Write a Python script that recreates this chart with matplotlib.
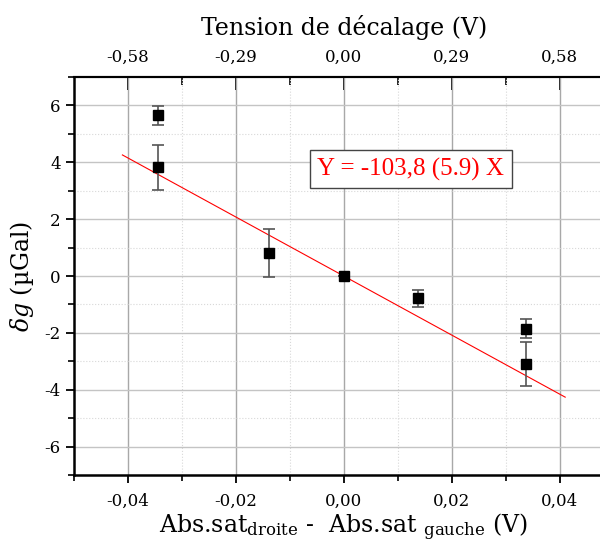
import numpy as np
import matplotlib
matplotlib.use("Agg")
import matplotlib.pyplot as plt
from matplotlib.ticker import FixedLocator, MultipleLocator, FuncFormatter

plt.rcParams["font.family"] = ["DejaVu Serif"]
plt.rcParams["mathtext.fontset"] = "dejavuserif"
plt.rcParams["axes.unicode_minus"] = False

# data
dv = [-0.0345, -0.0345, -0.0138, 0.0, 0.0138, 0.0338, 0.0338]   # Abs.sat droite - gauche (V)
dg = [5.65, 3.82, 0.80, 0.0, -0.78, -1.85, -3.10]                 # delta g (uGal)
err = [0.33, 0.80, 0.85, 0.0, 0.30, 0.33, 0.77]
slope = -103.8
fit_x = [-0.041, 0.041]
ratio = 14.5            # tension de decalage / Abs.sat
top_ticks = [-0.58, -0.29, 0.0, 0.29, 0.58]

comma = FuncFormatter(lambda v, p: f"{v:.2f}".replace(".", ","))

fig = plt.figure(figsize=(6.0, 5.45), dpi=100)
ax = fig.add_axes([0.123, 0.128, 0.9, 0.731])

ax.errorbar(dv, dg, yerr=err, fmt="s", color="black", ms=7,
            ecolor="#555555", elinewidth=1.2, capsize=4, capthick=1.2, zorder=3)
fx = np.array(fit_x)
ax.plot(fx, slope * fx, color="red", lw=0.8, zorder=2)

ax.set_xlim(-0.05, 0.05)
ax.set_ylim(-7, 7)
ax.xaxis.set_major_locator(MultipleLocator(0.02))
ax.xaxis.set_minor_locator(MultipleLocator(0.01))
ax.yaxis.set_major_locator(MultipleLocator(2))
ax.yaxis.set_minor_locator(MultipleLocator(1))
ax.xaxis.set_major_formatter(comma)
ax.grid(True, which="major", axis="x", color="#a8a8a8", lw=1.0)
ax.grid(True, which="major", axis="y", color="#c4c4c4", lw=1.0)
ax.grid(True, which="minor", color="#d8d8d8", lw=0.8, ls=":")
ax.set_axisbelow(True)

for s in ("left", "bottom"):
    ax.spines[s].set_linewidth(1.8)
ax.spines["right"].set_visible(False)
ax.spines["top"].set_linewidth(1.5)
ax.spines["top"].set_zorder(5)
ax.tick_params(which="major", length=6, width=1.3, labelsize=12, direction="out")
ax.tick_params(which="minor", length=4, width=1.2, direction="out")
ax.tick_params(axis="x", pad=7)

ax.set_xlabel(r"Abs.sat$_{\mathrm{droite}}$ -  Abs.sat $_{\mathrm{gauche}}$ (V)",
              fontsize=17, labelpad=1)
ax.set_ylabel(r"$\delta g$ (µGal)", fontsize=17, labelpad=6)

top = ax.secondary_xaxis("top", functions=(lambda x: x * ratio, lambda x: x / ratio))
top.xaxis.set_major_locator(FixedLocator(top_ticks))
top.xaxis.set_minor_locator(FixedLocator([-0.435, -0.145, 0.145, 0.435]))
top.xaxis.set_major_formatter(comma)
top.spines["top"].set_linewidth(1.5)
top.tick_params(which="major", length=9, width=1.3, labelsize=12, direction="in", pad=8)
top.tick_params(which="minor", length=6, width=1.2, direction="in")
top.set_xlabel("Tension de décalage (V)", fontsize=17, labelpad=10)

ax.text(0.0124, 3.75, "Y = -103,8 (5.9) X", color="red", fontsize=18,
        family="Liberation Serif", ha="center", va="center",
        bbox=dict(boxstyle="square,pad=0.3", fc="white", ec="#444444", lw=1.0))

fig.savefig("out.png", dpi=100)
